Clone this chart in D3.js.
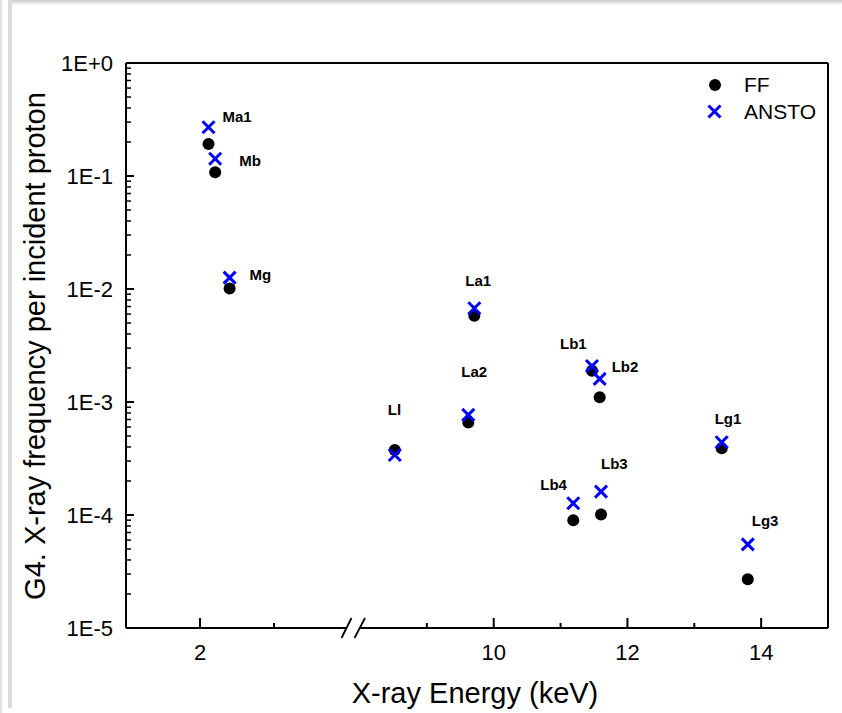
<!DOCTYPE html>
<html><head><meta charset="utf-8">
<script src="https://cdn.jsdelivr.net/npm/d3@7"></script>
<style>
html,body{margin:0;padding:0;background:#fff;}
svg{display:block;font-family:"Liberation Sans",Arial,sans-serif;}
</style></head>
<body>
<svg id="chart" width="842" height="713"></svg>
<script>
// ---- data ----
const lineNames   = ["Ma1","Mb","Mg","Ll","La2","La1","Lb4","Lb1","Lb2","Lb3","Lg1","Lg3"];
const energies    = [2.115, 2.205, 2.40, 8.52, 9.62, 9.71, 11.19, 11.47, 11.585, 11.605, 13.41, 13.80];
const ffValues    = [0.192, 0.108, 0.0101, 3.76e-4, 6.6e-4, 5.8e-3, 9.0e-5, 1.89e-3, 1.10e-3, 1.01e-4, 3.9e-4, 2.7e-5];
const anstoValues = [0.270, 0.142, 0.0126, 3.4e-4, 7.7e-4, 6.75e-3, 1.27e-4, 2.08e-3, 1.60e-3, 1.61e-4, 4.4e-4, 5.5e-5];
const seriesNames = ["FF","ANSTO"];
const yTickValues = [1, 1e-1, 1e-2, 1e-3, 1e-4, 1e-5];
const yTickLabels = ["1E+0","1E-1","1E-2","1E-3","1E-4","1E-5"];
const xLeftMajor  = [2];
const xLeftMinor  = [3];
const xRightMajor = [10, 12, 14];
const xRightMinor = [9, 11, 13];
// label placement (pixel offsets from the ANSTO marker) - layout only
const labelOffsets = [[14,-11],[24,2],[20,-3],[-7,-45],[-7,-43],[-9,-28],[-33,-19],[-32,-22],[12,-12],[0,-28],[-7,-24],[4,-24]];

const svg = d3.select("#chart");
const L = 126, R = 828, T = 63, B = 628;
const blue = "#0000ff";

// page chrome
svg.append("rect").attr("x",0).attr("y",0).attr("width",2).attr("height",713).attr("fill","#e2e2e2");
svg.append("rect").attr("x",8).attr("y",0).attr("width",4).attr("height",708).attr("fill","#dcdcdc");
const grad = svg.append("defs").append("linearGradient").attr("id","sh").attr("x1",0).attr("y1",0).attr("x2",0).attr("y2",1);
grad.append("stop").attr("offset","0%").attr("stop-color","#c8c8c8");
grad.append("stop").attr("offset","100%").attr("stop-color","#ffffff");
svg.append("rect").attr("x",12).attr("y",0).attr("width",830).attr("height",5).attr("fill","url(#sh)");

// scales
const xLeft  = d3.scaleLinear().domain([1,4]).range([L,348]);
const xRight = d3.scaleLinear().domain([8,15]).range([360,R]);
const x = e => e < 6 ? xLeft(e) : xRight(e);
const y = d3.scaleLog().domain([1e-5,1]).range([B,T]);

const ax = svg.append("g").attr("stroke","#000").attr("stroke-width",2).attr("fill","none");
// frame: top, right, left
ax.append("line").attr("x1",L).attr("x2",R).attr("y1",T).attr("y2",T);
ax.append("line").attr("x1",R).attr("x2",R).attr("y1",T).attr("y2",B);
ax.append("line").attr("x1",L).attr("x2",L).attr("y1",T).attr("y2",B);
// bottom with break
ax.append("line").attr("x1",L).attr("x2",346).attr("y1",B).attr("y2",B);
ax.append("line").attr("x1",359).attr("x2",R).attr("y1",B).attr("y2",B);
ax.append("line").attr("x1",341.5).attr("x2",351.5).attr("y1",B+10).attr("y2",B-10).attr("stroke-width",1.8);
ax.append("line").attr("x1",354.5).attr("x2",365).attr("y1",B+10).attr("y2",B-10).attr("stroke-width",1.8);

// y ticks
const minorY = [];
for (let d = -5; d < 0; d++) for (let m = 2; m <= 9; m++) minorY.push(m * Math.pow(10, d));
ax.selectAll(null).data(yTickValues).join("line")
  .attr("x1",L).attr("x2",L+8).attr("y1",d=>y(d)).attr("y2",d=>y(d));
ax.selectAll(null).data(minorY).join("line").attr("stroke-width",1.5)
  .attr("x1",L).attr("x2",L+5).attr("y1",d=>y(d)).attr("y2",d=>y(d));
svg.selectAll(null).data(yTickValues).join("text")
  .attr("x",113).attr("y",d=>y(d)).attr("dy","0.35em").attr("text-anchor","end")
  .attr("font-size",22).text((d,i)=>yTickLabels[i]);

// x ticks
const majX = xLeftMajor.map(xLeft).concat(xRightMajor.map(xRight));
const minX = xLeftMinor.map(xLeft).concat(xRightMinor.map(xRight));
ax.selectAll(null).data(majX).join("line").attr("x1",d=>d).attr("x2",d=>d).attr("y1",B).attr("y2",B-10);
ax.selectAll(null).data(minX).join("line").attr("x1",d=>d).attr("x2",d=>d).attr("y1",B).attr("y2",B-5);
svg.selectAll(null).data(xLeftMajor.concat(xRightMajor)).join("text")
  .attr("x",d=>x(d)).attr("y",652).attr("dy","0.35em").attr("text-anchor","middle")
  .attr("font-size",22).text(d=>d);

// axis titles
svg.append("text").attr("x",475).attr("y",693).attr("dy","0.35em").attr("text-anchor","middle")
  .attr("font-size",29).text("X-ray Energy (keV)");
svg.append("text").attr("transform","translate(35,346) rotate(-90)").attr("dy","0.35em")
  .attr("text-anchor","middle").attr("font-size",29).text("G4. X-ray frequency per incident proton");

// marks
const crossPath = s => `M${-s},${-s}L${s},${s}M${-s},${s}L${s},${-s}`;
svg.append("g").selectAll("circle").data(energies).join("circle")
  .attr("cx",d=>x(d)).attr("cy",(d,i)=>y(ffValues[i])).attr("r",6).attr("fill","#000");
svg.append("g").selectAll("path").data(energies).join("path")
  .attr("transform",(d,i)=>`translate(${x(d)},${y(anstoValues[i])})`)
  .attr("d",crossPath(6)).attr("stroke",blue).attr("stroke-width",3).attr("fill","none");

// point labels
svg.append("g").selectAll("text").data(lineNames).join("text")
  .attr("x",(d,i)=>x(energies[i])+labelOffsets[i][0])
  .attr("y",(d,i)=>y(anstoValues[i])+labelOffsets[i][1])
  .attr("dy","0.35em").attr("font-size",15).attr("font-weight","bold").text(d=>d);

// legend
const lg = svg.append("g");
lg.append("circle").attr("cx",715).attr("cy",85).attr("r",6).attr("fill","#000");
lg.append("path").attr("transform","translate(714.5,111.5)").attr("d",crossPath(6))
  .attr("stroke",blue).attr("stroke-width",3).attr("fill","none");
lg.selectAll("text").data(seriesNames).join("text")
  .attr("x",744).attr("y",(d,i)=>i?111.5:85).attr("dy","0.35em").attr("font-size",21).text(d=>d);
</script>
</body></html>
